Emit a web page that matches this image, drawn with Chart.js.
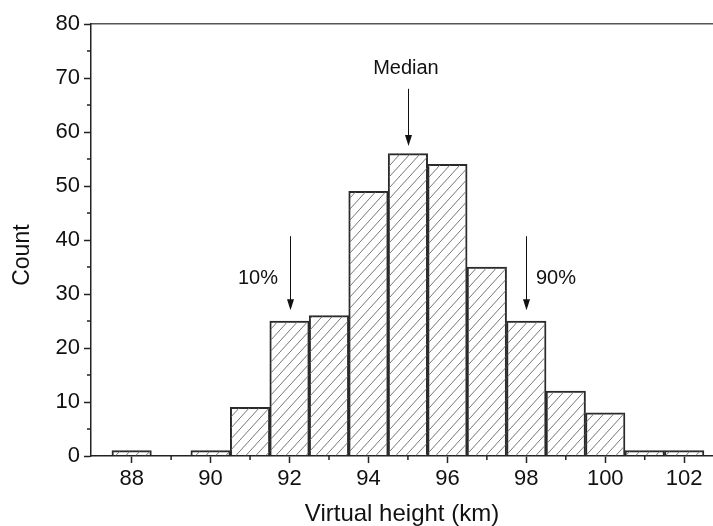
<!DOCTYPE html>
<html>
<head>
<meta charset="utf-8">
<script src="https://cdn.jsdelivr.net/npm/chart.js@4/dist/chart.umd.min.js"></script>
<style>
  html, body { margin: 0; padding: 0; background: #fff; }
  #wrap { width: 713px; height: 526px; }
</style>
</head>
<body>
<div id="wrap"><canvas id="heightHist"></canvas></div>
<script>
// histogram bins (km) and counts
const bins = [88, 89, 90, 91, 92, 93, 94, 95, 96, 97, 98, 99, 100, 101, 102];
const counts = [1, 0, 1, 9, 25, 26, 49, 56, 54, 35, 25, 12, 8, 1, 1];

const xTicks = [88, 90, 92, 94, 96, 98, 100, 102];
const xMinorTicks = [89, 91, 93, 95, 97, 99, 101];
const yTicks = [0, 10, 20, 30, 40, 50, 60, 70, 80];
const yMinorTicks = [5, 15, 25, 35, 45, 55, 65, 75];

// percentile arrows
const markerText = ['10%', 'Median', '90%'];
const markerX = [92, 95, 98];
const arrowFrom = [40.7, 68, 40.7];
const arrowTo = [27, 57.4, 27];
const textX = [91.2, 94.95, 98.75];
const textY = [32.9, 71.7, 32.8];

const FONT = 'Liberation Sans, Arial, sans-serif';

function hatch() {
  const w = 10, h = 11;
  const c = document.createElement('canvas');
  c.width = w; c.height = h;
  const g = c.getContext('2d');
  g.strokeStyle = '#777';
  g.lineWidth = 1;
  g.beginPath();
  for (let k = -1; k <= 1; k++) {
    g.moveTo(k * w, h); g.lineTo(k * w + w, 0);
  }
  g.stroke();
  return g.createPattern(c, 'repeat');
}

const extras = {
  id: 'extras',
  afterDraw(chart) {
    const ctx = chart.ctx;
    const xs = chart.scales.x, ys = chart.scales.y;
    const y0 = ys.bottom, x0 = xs.left;
    ctx.save();
    // minor ticks
    ctx.strokeStyle = '#222';
    ctx.lineWidth = 1.5;
    ctx.beginPath();
    xMinorTicks.forEach(v => {
      const px = xs.getPixelForValue(v);
      ctx.moveTo(px, y0); ctx.lineTo(px, y0 + 4);
    });
    yMinorTicks.forEach(v => {
      const py = ys.getPixelForValue(v);
      ctx.moveTo(x0, py); ctx.lineTo(x0 - 4, py);
    });
    ctx.stroke();

    // arrows and their labels
    ctx.strokeStyle = '#111';
    ctx.fillStyle = '#111';
    ctx.lineWidth = 1;
    markerX.forEach((v, i) => {
      const px = Math.round(xs.getPixelForValue(v)) + 0.5;
      const top = ys.getPixelForValue(arrowFrom[i]);
      const tip = ys.getPixelForValue(arrowTo[i]);
      ctx.beginPath();
      ctx.moveTo(px, top); ctx.lineTo(px, tip - 9);
      ctx.stroke();
      ctx.beginPath();
      ctx.moveTo(px - 3.5, tip - 11);
      ctx.lineTo(px + 3.5, tip - 11);
      ctx.lineTo(px, tip);
      ctx.closePath();
      ctx.fill();
    });
    ctx.font = '20px ' + FONT;
    ctx.textAlign = 'center';
    ctx.textBaseline = 'middle';
    markerText.forEach((t, i) => {
      ctx.fillText(t, xs.getPixelForValue(textX[i]), ys.getPixelForValue(textY[i]));
    });

    // y axis title, sitting a little below the middle of the axis
    ctx.font = '23px ' + FONT;
    ctx.translate(23, ys.getPixelForValue(37.2));
    ctx.rotate(-Math.PI / 2);
    ctx.fillText('Count', 0, 0);
    ctx.restore();
  }
};

const data = {
  datasets: [{
    label: 'Count',
    data: bins.map((b, i) => ({ x: b, y: counts[i] })),
    backgroundColor: hatch(),
    borderColor: '#2a2a2a',
    borderWidth: 1.3,
    barPercentage: 1,
    categoryPercentage: 1,
    borderSkipped: 'bottom'
  }]
};

const config = {
  type: 'bar',
  data: data,
  plugins: [extras],
  options: {
    responsive: true,
    maintainAspectRatio: false,
    animation: false,
    layout: { padding: { top: 24, right: 0, bottom: 0, left: 0 } },
    plugins: { legend: { display: false }, tooltip: { enabled: false } },
    scales: {
      x: {
        type: 'linear',
        min: 86.97,
        max: 102.73,
        offset: false,
        afterBuildTicks: s => { s.ticks = xTicks.map(v => ({ value: v })); },
        afterFit: s => { s.height = 70; },
        ticks: { font: { family: FONT, size: 22 }, color: '#111', padding: 3, maxRotation: 0 },
        grid: { offset: false, drawOnChartArea: false, tickLength: 7, tickColor: '#222', tickWidth: 1.5 },
        border: { color: '#222', width: 1.5 },
        title: {
          display: true, text: 'Virtual height (km)', color: '#111',
          font: { family: FONT, size: 24, lineHeight: 1 }, padding: 0
        }
      },
      xTop: {
        type: 'linear',
        position: 'top',
        min: 86.97,
        max: 102.73,
        offset: false,
        afterFit: s => { s.height = 0; },
        ticks: { display: false },
        grid: { offset: false, drawOnChartArea: false, drawTicks: false },
        border: { color: '#555', width: 1.5 }
      },
      y: {
        min: 0,
        max: 80,
        afterBuildTicks: s => { s.ticks = yTicks.map(v => ({ value: v })); },
        afterFit: s => { s.width = 91; },
        ticks: { font: { family: FONT, size: 22 }, color: '#111', padding: 4 },
        grid: { drawOnChartArea: false, tickLength: 7, tickColor: '#222', tickWidth: 1.5 },
        border: { color: '#222', width: 1.5 },
        title: { display: false }
      }
    }
  }
};

const histChart = new Chart(document.getElementById('heightHist'), config);
</script>
</body>
</html>
